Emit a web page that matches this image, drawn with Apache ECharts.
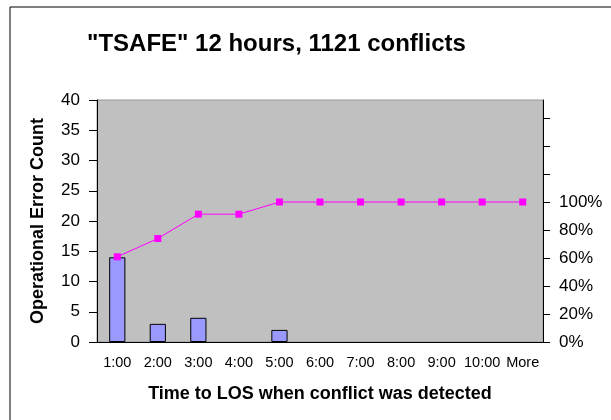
<!DOCTYPE html>
<html>
<head>
<meta charset="utf-8">
<title>TSAFE</title>
<style>
html, body { margin: 0; padding: 0; background: #fff; }
#chart { width: 611px; height: 420px; }
</style>
<script src="https://cdn.jsdelivr.net/npm/echarts@6/dist/echarts.min.js"></script>
</head>
<body>
<div id="chart"></div>
<script>
var categories = ['1:00', '2:00', '3:00', '4:00', '5:00', '6:00', '7:00', '8:00', '9:00', '10:00', 'More'];
var errorCounts = [14, 3, 4, 0, 2, 0, 0, 0, 0, 0, 0];
var cumulativePct = [0.6087, 0.7391, 0.913, 0.913, 1, 1, 1, 1, 1, 1, 1];

var font = 'Liberation Sans, Arial, sans-serif';
var chart = echarts.init(document.getElementById('chart'));

// empty bins get no outline (Excel draws nothing there)
var barData = errorCounts.map(function (v) {
	return v === 0 ? { value: v, itemStyle: { borderWidth: 0 } } : v;
});

var option = {
	animation: false,
	backgroundColor: '#fff',
	title: {
		text: '"TSAFE" 12 hours, 1121 conflicts',
		left: 82,
		top: 27,
		textStyle: { fontFamily: font, fontSize: 24, fontWeight: 'bold', color: '#000' }
	},
	graphic: [{
		type: 'rect',
		shape: { x: 10, y: 7, width: 640, height: 440 },
		style: { fill: 'none', stroke: '#000', lineWidth: 1 },
		silent: true
	}],
	grid: {
		left: 97, top: 100, right: 68, bottom: 78,
		show: true,
		backgroundColor: '#C0C0C0',
		borderColor: '#999',
		borderWidth: 1
	},
	xAxis: {
		type: 'category',
		data: categories,
		name: 'Time to LOS when conflict was detected',
		nameLocation: 'middle',
		nameGap: 43,
		nameTextStyle: { fontFamily: font, fontSize: 18, fontWeight: 'bold', color: '#000' },
		axisLine: { lineStyle: { color: '#000', width: 1 } },
		axisTick: { length: 6, lineStyle: { color: '#000' } },
		axisLabel: { fontFamily: font, fontSize: 14.5, color: '#000', margin: 13, interval: 0 }
	},
	yAxis: [{
		type: 'value',
		min: 0, max: 40, interval: 5,
		name: 'Operational Error Count',
		nameLocation: 'middle',
		nameGap: 50,
		nameTextStyle: { fontFamily: font, fontSize: 18, fontWeight: 'bold', color: '#000' },
		axisLine: { show: true, lineStyle: { color: '#000', width: 1 } },
		axisTick: { show: true, length: 8, lineStyle: { color: '#000' } },
		axisLabel: { fontFamily: font, fontSize: 17, color: '#000', margin: 17 },
		splitLine: { show: false }
	}, {
		type: 'value',
		min: 0, max: 1.7286, interval: 0.2,
		position: 'right',
		axisLine: { show: true, lineStyle: { color: '#000', width: 1 } },
		axisTick: { show: true, length: 7, lineStyle: { color: '#000' } },
		axisLabel: {
			fontFamily: font, fontSize: 17, color: '#000', margin: 16,
			showMaxLabel: false,
			formatter: function (v) {
				return v <= 1.0001 ? Math.round(v * 100) + '%' : '';
			}
		},
		splitLine: { show: false }
	}],
	series: [{
		type: 'bar',
		data: barData,
		barWidth: '40%',
		itemStyle: { color: '#9999FF', borderColor: '#000', borderWidth: 1 }
	}, {
		type: 'line',
		yAxisIndex: 1,
		data: cumulativePct,
		symbol: 'rect',
		symbolSize: 7,
		lineStyle: { color: '#FF00FF', width: 1 },
		itemStyle: { color: '#FF00FF' }
	}]
};
chart.setOption(option);
</script>
</body>
</html>
